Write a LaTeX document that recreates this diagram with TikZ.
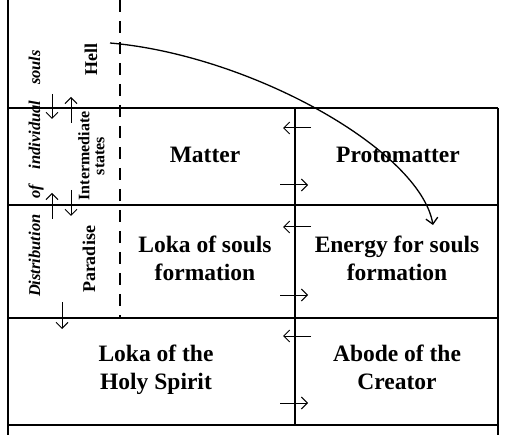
\documentclass[tikz,border=0pt]{standalone}
\usepackage{fontspec}
\setmainfont{Liberation Serif}
\usetikzlibrary{arrows.meta}
\begin{document}
\begin{tikzpicture}[x=1pt,y=-1pt,
  frame/.style={line width=1.4pt},
  dashline/.style={line width=1.3pt, dash pattern=on 12pt off 9pt},
  flow/.style={line width=1pt, -{Straight Barb[length=6pt,width=12pt]}},
  bigflow/.style={flow, line width=1.3pt},
  big/.style={font=\fontsize{23.5}{28}\selectfont\bfseries, align=center, anchor=base, inner sep=0pt},
  side/.style={font=\fontsize{18}{20}\selectfont\bfseries, rotate=90, anchor=base, inner sep=0pt},
  sidesmall/.style={font=\fontsize{16}{15}\selectfont\bfseries, rotate=90, align=center, anchor=center, inner sep=0pt},
  spread/.style={font=\fontsize{16.5}{18}\selectfont\bfseries\itshape, rotate=90, anchor=base, inner sep=0pt}
]
\useasboundingbox (0,0) rectangle (508,435);
% frame
\coordinate (LT) at (8,0);
\coordinate (LB) at (8,435);
\coordinate (RT) at (498,108);
\coordinate (RB) at (498,435);
\draw[frame] (LT) -- (LB);
\draw[frame] (RT) -- (RB);
\draw[frame] (8,108) -- (RT);
\draw[frame] (8,205) -- (498,205);
\draw[frame] (8,318) -- (498,318);
\draw[frame] (8,425) -- (498,425);
\draw[frame] (295,108) -- (295,425);
\draw[dashline] (120,0) -- (120,318);
% curve
\coordinate (cs) at (110,43);
\coordinate (ce) at (433,225);
\draw[bigflow] (cs) .. controls (250,55) and (420,150) .. (ce);
% left column arrows
\draw[flow] (52,94) -- (52,119);
\draw[flow] (71,123) -- (71,97);
\draw[flow] (52,219) -- (52,193);
\draw[flow] (71,190) -- (71,216);
\draw[flow] (62,302) -- (62,329);
% middle arrows
\foreach \y in {128,227,336} \draw[flow] (311,\y) -- (283,\y);
\foreach \y in {185,295,403} \draw[flow] (280,\y) -- (308,\y);
% texts
\node[big] (matter) at (205,163) {Matter};
\node[big] (proto) at (398,163) {Protomatter};
\node[big] (loka) at (205,280) {Loka of souls\\formation};
\node[big] (energy) at (397,280) {Energy for souls\\formation};
\node[big] (holy) at (156,389) {Loka of the\\Holy Spirit};
\node[big] (abode) at (397,389) {Abode of the\\Creator};
\node[side] (hell) at (97,60) {Hell};
\node[side] (paradise) at (95,259.5) {Paradise};
\node[sidesmall] (inter) at (91.5,156) {Intermediate\\states};
\node[spread] (distr) at (40,173.5) {\makebox[247pt][s]{Distribution of individual souls}};
\end{tikzpicture}
\end{document}
